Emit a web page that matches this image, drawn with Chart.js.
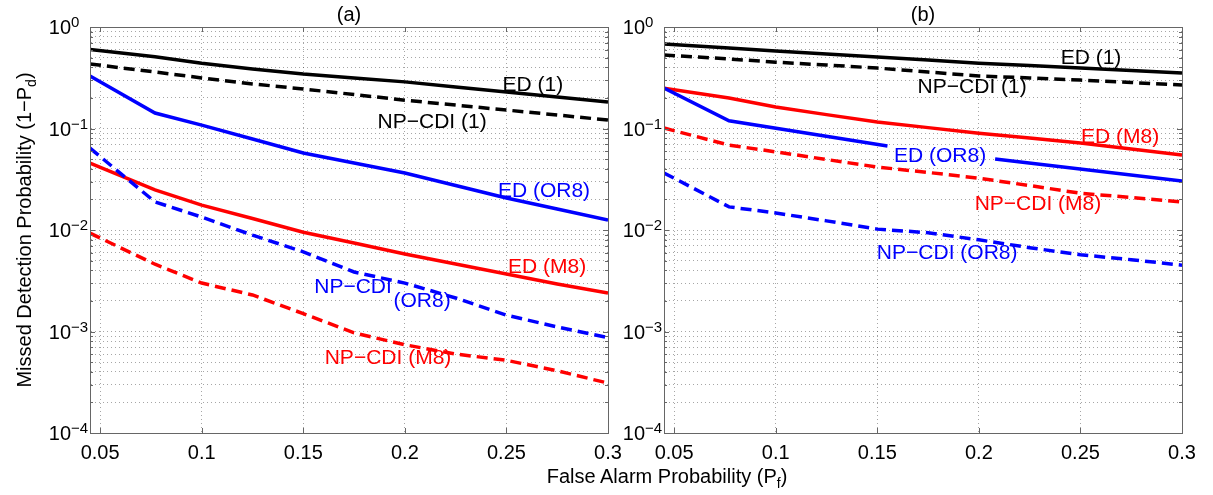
<!DOCTYPE html>
<html>
<head>
<meta charset="utf-8">
<script src="https://cdn.jsdelivr.net/npm/chart.js@4.4.1/dist/chart.umd.min.js"></script>
<style>
  body { margin: 0; background: #fff; width: 1213px; height: 495px; overflow: hidden; position: relative;
         font-family: "Liberation Sans", Arial, sans-serif; color: #000; }
  .wrap { position: absolute; top: 0; height: 495px; }
  #wrapA { left: 0; width: 636px; }
  #wrapB { left: 600px; width: 613px; }
  #xlabel { position: absolute; left: 417px; width: 500px; top: 465px; text-align: center; font-size: 20px; line-height: 22px; white-space: nowrap; }
  #ylabel { position: absolute; left: -206px; top: 218px; width: 460px; height: 24px; line-height: 24px; text-align: center;
            font-size: 20px; white-space: nowrap; transform: rotate(-90deg); transform-origin: 50% 50%; }
  sub { font-size: 14px; vertical-align: -5px; line-height: 0; }
</style>
</head>
<body>
<div class="wrap" id="wrapA"><canvas id="chartA" width="636" height="495"></canvas></div>
<div class="wrap" id="wrapB"><canvas id="chartB" width="613" height="495"></canvas></div>
<div id="xlabel">False Alarm Probability (P<sub>f</sub>)</div>
<div id="ylabel">Missed Detection Probability (1&minus;P<sub>d</sub>)</div>

<script>
// false alarm probability (x) shared by most curves
const pf = [0.045, 0.077, 0.1, 0.125, 0.15, 0.175, 0.2, 0.225, 0.25, 0.275, 0.3];

// panel (a)
const edOneA = [0.60, 0.51, 0.44, 0.386, 0.344, 0.315, 0.288, 0.256, 0.229, 0.204, 0.182];
const npOneA = [0.432, 0.36, 0.315, 0.275, 0.245, 0.216, 0.19, 0.17, 0.152, 0.136, 0.121];
const edOr8A = [0.329, 0.142, 0.108, 0.0788, 0.0574, 0.0457, 0.0364, 0.0274, 0.0207, 0.0161, 0.0125];
const npOr8A = [0.064, 0.0189, 0.0134, 0.0089, 0.0061, 0.00386, 0.0030, 0.00214, 0.00145, 0.00111, 0.00087];
const edM8A  = [0.0457, 0.0248, 0.0176, 0.013, 0.0095, 0.00745, 0.0058, 0.00462, 0.00369, 0.00294, 0.0024];
const npM8A  = [0.0093, 0.0046, 0.0030, 0.00229, 0.0015, 0.00097, 0.00074, 0.0006, 0.00052, 0.00041, 0.00031];

// panel (b)
const edOneB = [0.68, 0.621, 0.58, 0.542, 0.507, 0.473, 0.44, 0.418, 0.394, 0.373, 0.352];
const npOneB = [0.53, 0.484, 0.45, 0.422, 0.394, 0.36, 0.329, 0.315, 0.30, 0.284, 0.268];
const edM8B  = [0.25, 0.20, 0.163, 0.137, 0.116, 0.102, 0.090, 0.0806, 0.072, 0.0628, 0.0548];
const npM8B  = [0.101, 0.0687, 0.0588, 0.0495, 0.0417, 0.0369, 0.0324, 0.0274, 0.023, 0.0209, 0.0189];
const npOr8B = [0.0365, 0.0169, 0.0147, 0.0123, 0.0102, 0.0094, 0.0080, 0.0067, 0.0057, 0.0051, 0.0045];
// ED (OR8) in (b) is broken where its label sits
const pfEdOr8B = [0.045, 0.077, 0.155, 0.18, 0.208, 0.3];
const edOr8B   = [0.25, 0.119, 0.0673, null, 0.050, 0.0304];

// curve labels: text, pf, value
const labelsA = [
  ['ED (1)', 0.263, 0.268], ['NP\u2212CDI (1)', 0.2134, 0.116], ['ED (OR8)', 0.2685, 0.0242],
  ['ED (M8)', 0.27, 0.00432], ['NP\u2212CDI', 0.1745, 0.00274], ['(OR8)', 0.2085, 0.002],
  ['NP\u2212CDI (M8)', 0.1917, 0.000548]
];
const labelsB = [
  ['ED (1)', 0.2552, 0.495], ['NP\u2212CDI (1)', 0.1967, 0.256], ['ED (M8)', 0.2695, 0.0824],
  ['ED (OR8)', 0.1809, 0.0536], ['NP\u2212CDI (M8)', 0.2291, 0.018], ['NP\u2212CDI (OR8)', 0.1844, 0.00593]
];

// ticks
const xTicks = [0.05, 0.1, 0.15, 0.2, 0.25, 0.3];
const xTickLabels = ['0.05', '0.1', '0.15', '0.2', '0.25', '0.3'];
const yExponents = [0, -1, -2, -3, -4];

// styles
const BLACK = '#000000', BLUE = '#0000ff', RED = '#ff0000';
const labelColorsA = [BLACK, BLACK, BLUE, RED, BLUE, BLUE, RED];
const labelColorsB = [BLACK, BLACK, RED, BLUE, RED, BLUE];
const FONT = '"Liberation Sans", Arial, sans-serif';
const AXIS = '#666666';
const DASH = [11, 6];

function pts(xs, ys) {
  return xs.map((x, i) => ({ x: x, y: ys[i] }));
}

function line(xs, ys, color, dashed) {
  return {
    data: pts(xs, ys),
    borderColor: color,
    borderWidth: 3.5,
    borderDash: dashed ? DASH : [],
    pointRadius: 0,
    tension: 0,
    fill: false,
    spanGaps: false
  };
}

// every 1..9 x 10^n for the dotted grid
const yGrid = [];
for (let e = -4; e <= 0; e++) {
  for (let m = 1; m <= 9; m++) {
    if (e === 0 && m > 1) break;
    yGrid.push(m * Math.pow(10, e));
  }
}

function decor(title, labels, colors) {
  return {
    id: 'decor',
    afterDatasetsDraw(chart) {
      const ctx = chart.ctx;
      const xs = chart.scales.x, ys = chart.scales.y;
      ctx.save();
      ctx.font = '21px ' + FONT;
      ctx.textAlign = 'center';
      ctx.textBaseline = 'middle';
      labels.forEach((l, i) => {
        ctx.fillStyle = colors[i];
        ctx.fillText(l[0], xs.getPixelForValue(l[1]), ys.getPixelForValue(l[2]));
      });
      ctx.restore();
    },
    afterDraw(chart) {
      const ctx = chart.ctx;
      const a = chart.chartArea;
      const xs = chart.scales.x, ys = chart.scales.y;
      ctx.save();
      // box
      ctx.strokeStyle = AXIS;
      ctx.lineWidth = 1;
      ctx.strokeRect(Math.round(a.left) + 0.5, Math.round(a.top) + 0.5,
                     Math.round(a.right - a.left), Math.round(a.bottom - a.top));
      // inward tick marks
      ctx.beginPath();
      xTicks.forEach(v => {
        const px = Math.round(xs.getPixelForValue(v)) + 0.5;
        ctx.moveTo(px, a.bottom); ctx.lineTo(px, a.bottom - 5);
        ctx.moveTo(px, a.top); ctx.lineTo(px, a.top + 5);
      });
      yGrid.forEach(v => {
        const py = Math.round(ys.getPixelForValue(v)) + 0.5;
        const major = Math.abs(Math.log10(v) - Math.round(Math.log10(v))) < 1e-9;
        const len = major ? 5 : 3;
        ctx.moveTo(a.left, py); ctx.lineTo(a.left + len, py);
        ctx.moveTo(a.right, py); ctx.lineTo(a.right - len, py);
      });
      ctx.stroke();

      ctx.fillStyle = BLACK;
      // x tick labels
      ctx.font = '20px ' + FONT;
      ctx.textAlign = 'center';
      ctx.textBaseline = 'alphabetic';
      xTicks.forEach((v, i) => {
        ctx.fillText(xTickLabels[i], xs.getPixelForValue(v), a.bottom + 26);
      });
      // y tick labels 10^n
      yExponents.forEach(e => {
        const py = ys.getPixelForValue(Math.pow(10, e));
        const bx = a.left - 19;
        ctx.font = '20px ' + FONT;
        ctx.textAlign = 'right';
        ctx.fillText('10', bx, py + 7);
        ctx.font = '15px ' + FONT;
        ctx.textAlign = 'left';
        ctx.fillText(e === 0 ? '0' : '\u2212' + (-e), bx, py);
      });
      // panel title
      ctx.font = '20px ' + FONT;
      ctx.textAlign = 'center';
      ctx.fillText(title, (a.left + a.right) / 2, a.top - 6);
      ctx.restore();
    }
  };
}

function makeChart(id, datasets, padding, title, labels, colors) {
  const ctx = document.getElementById(id).getContext('2d');
  return new Chart(ctx, {
    type: 'line',
    data: { datasets: datasets },
    options: {
      responsive: false,
      animation: false,
      devicePixelRatio: 1,
      layout: { padding: padding },
      plugins: { legend: { display: false }, tooltip: { enabled: false }, title: { display: false } },
      scales: {
        x: {
          type: 'linear', min: 0.045, max: 0.3,
          afterBuildTicks: s => { s.ticks = xTicks.map(v => ({ value: v })); },
          ticks: { display: false },
          grid: { color: 'rgba(0,0,0,0.35)', drawTicks: false, lineWidth: 1 },
          border: { display: true, color: AXIS, dash: [1, 3] }
        },
        y: {
          type: 'logarithmic', min: 1e-4, max: 1,
          afterBuildTicks: s => { s.ticks = yGrid.map(v => ({ value: v })); },
          ticks: { display: false },
          grid: { color: 'rgba(0,0,0,0.35)', drawTicks: false, lineWidth: 1 },
          border: { display: true, color: AXIS, dash: [1, 3] }
        }
      }
    },
    plugins: [decor(title, labels, colors)]
  });
}

makeChart('chartA', [
  line(pf, edOneA, BLACK, false),
  line(pf, npOneA, BLACK, true),
  line(pf, edOr8A, BLUE, false),
  line(pf, npOr8A, BLUE, true),
  line(pf, edM8A, RED, false),
  line(pf, npM8A, RED, true)
], { left: 90, right: 28, top: 27, bottom: 62 }, '(a)', labelsA, labelColorsA);

makeChart('chartB', [
  line(pf, edOneB, BLACK, false),
  line(pf, npOneB, BLACK, true),
  line(pfEdOr8B, edOr8B, BLUE, false),
  line(pf, edM8B, RED, false),
  line(pf, npM8B, RED, true),
  line(pf, npOr8B, BLUE, true)
], { left: 64, right: 31, top: 27, bottom: 62 }, '(b)', labelsB, labelColorsB);
</script>
</body>
</html>
